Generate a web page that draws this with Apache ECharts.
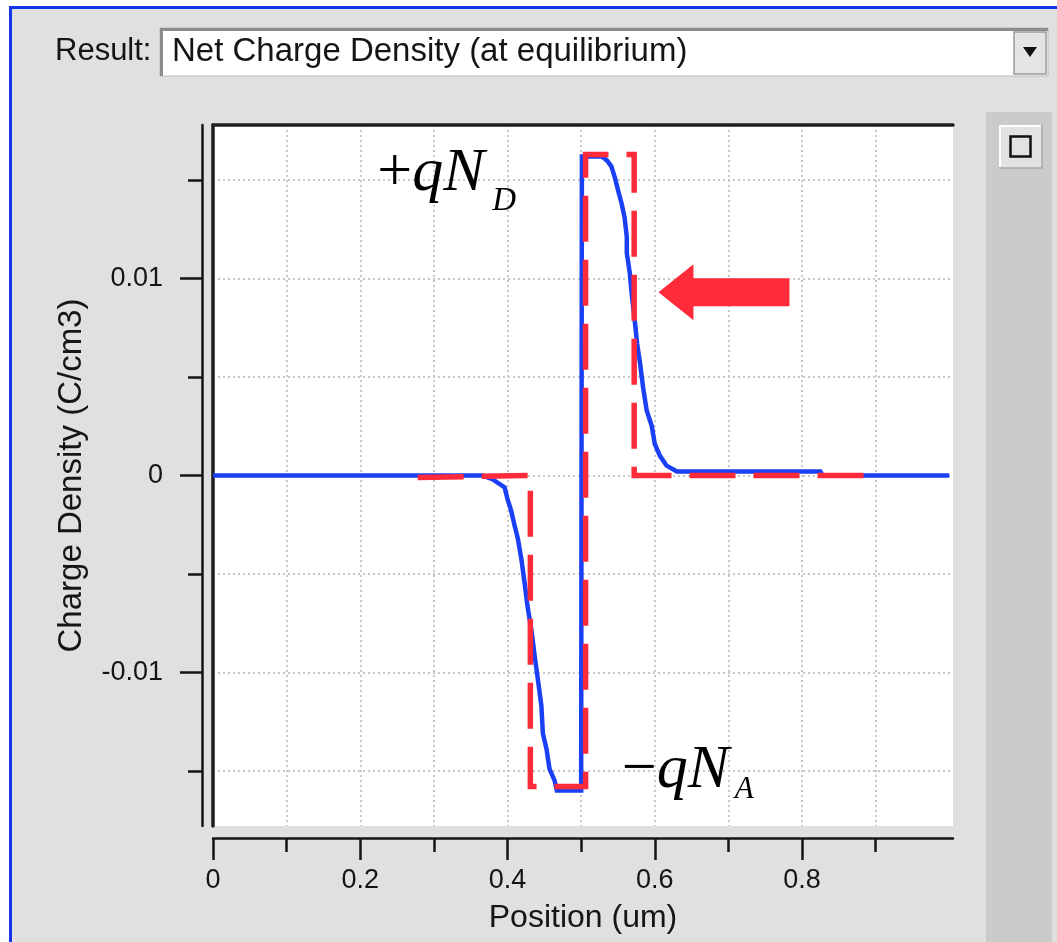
<!DOCTYPE html>
<html><head><meta charset="utf-8">
<script src="https://cdn.jsdelivr.net/npm/echarts@6/dist/echarts.min.js"></script>
<style>html,body{margin:0;padding:0;background:#fff}#c{width:1057px;height:942px}</style>
</head><body><div id="c"></div>
<script>
// ---- data (Position in um, Charge Density in C/cm3) ----
const posX = [0, 0.360, 0.366, 0.380, 0.396, 0.400, 0.405, 0.410, 0.414, 0.419, 0.423, 0.427, 0.433, 0.437, 0.441, 0.446, 0.448, 0.453, 0.457, 0.464, 0.467, 0.500,
  0.501, 0.528, 0.535, 0.541, 0.546, 0.550, 0.555, 0.559, 0.562, 0.562, 0.566, 0.569, 0.573, 0.576, 0.580, 0.584, 0.589, 0.596, 0.600, 0.607, 0.616, 0.630, 0.825, 0.828, 1.000];
const chargeY = [0, 0, 0, -0.0002, -0.0006, -0.0012, -0.0018, -0.0026, -0.0032, -0.0043, -0.0054, -0.0066, -0.0080, -0.0092, -0.0103, -0.0117, -0.0131, -0.0139, -0.0149, -0.0155, -0.0160, -0.0160,
  0.0162, 0.0162, 0.0160, 0.0157, 0.0151, 0.0145, 0.0138, 0.0131, 0.0121, 0.0113, 0.0103, 0.0091, 0.0078, 0.0067, 0.0057, 0.0045, 0.0033, 0.0025, 0.0016, 0.0010, 0.0005, 0.0002, 0.0002, 0, 0];
const idealX = [0.278, 0.431, 0.431, 0.506, 0.506, 0.572, 0.572, 0.897];
const idealY = [-0.0001, 0, -0.0158, -0.0158, 0.0163, 0.0163, 0, 0];
const xMajorTicks = [0, 0.2, 0.4, 0.6, 0.8];
const xMinorTicks = [0.1, 0.3, 0.5, 0.7, 0.9];
const xGridValues = [0, 0.1, 0.2, 0.3, 0.4, 0.5, 0.6, 0.7, 0.8, 0.9];
const yMajorTicks = [-0.01, 0, 0.01];
const yMinorTicks = [-0.015, -0.005, 0.005, 0.015];
const yGridValues = [-0.015, -0.01, -0.005, 0, 0.005, 0.01, 0.015];
const xRange = [0, 1.005];
const yRange = [-0.0178, 0.0178];
const arrowTip = [0.605, 0.0093];
const donorLabelAnchor = [0.223, 0.01434];
const acceptorLabelAnchor = [0.555, -0.0160];

const chart = echarts.init(document.getElementById('c'), null, {renderer: 'canvas'});
const SANS = '"Liberation Sans", Arial, sans-serif';
const SERIF = '"Liberation Serif", "Times New Roman", serif';
const INK = '#151515';

const blank = {axisLine:{show:false, onZero:false}, axisTick:{show:false}, axisLabel:{show:false}, splitLine:{show:false}};
function xa(extra){ return Object.assign({type:'value', min:xRange[0], max:xRange[1], gridIndex:0}, blank, extra); }
function ya(extra){ return Object.assign({type:'value', min:yRange[0], max:yRange[1], gridIndex:0}, blank, extra); }

const option = {
  backgroundColor: '#e0e0e0',
  animation: false,
  grid: {left: 213, top: 125, width: 740, height: 701, show: true, backgroundColor: '#ffffff', borderWidth: 0, containLabel: false, outerBoundsMode: 'none'},
  xAxis: [
    xa({position:'bottom', offset:12,
      axisLine:{show:true, onZero:false, lineStyle:{color:INK, width:2.5}},
      axisTick:{show:true, customValues:xMajorTicks, length:22, lineStyle:{color:INK, width:2.5}},
      axisLabel:{show:true, customValues:xMajorTicks, margin:29, fontFamily:SANS, fontSize:27, color:INK,
        formatter: v => String(v)},
      name:'Position (um)', nameLocation:'middle', nameGap:64,
      nameTextStyle:{fontFamily:SANS, fontSize:32, color:INK}}),
    xa({position:'bottom', offset:12,
      axisTick:{show:true, customValues:xMinorTicks, length:14, lineStyle:{color:INK, width:2.5}}}),
    xa({position:'bottom',
      axisTick:{show:false, customValues:xGridValues},
      splitLine:{show:true, lineStyle:{color:'#c8c8c8', width:2, type:[2,3]}}}),
    xa({position:'top',
      axisLine:{show:true, onZero:false, lineStyle:{color:'#1e1e1e', width:3.5}}})
  ],
  yAxis: [
    ya({position:'left', offset:11,
      axisLine:{show:true, onZero:false, lineStyle:{color:INK, width:2.5}},
      axisTick:{show:true, customValues:yMajorTicks, length:22, lineStyle:{color:INK, width:2.5}},
      axisLabel:{show:true, customValues:yMajorTicks, margin:39, fontFamily:SANS, fontSize:27, color:INK,
        formatter: v => (v === 0 ? '0' : String(v))},
      name:'Charge Density (C/cm3)', nameLocation:'middle', nameGap:114, nameRotate:90,
      nameTextStyle:{fontFamily:SANS, fontSize:33, color:INK}}),
    ya({position:'left', offset:11,
      axisTick:{show:true, customValues:yMinorTicks, length:14, lineStyle:{color:INK, width:2.5}}}),
    ya({position:'left',
      axisTick:{show:false, customValues:yGridValues},
      splitLine:{show:true, lineStyle:{color:'#c8c8c8', width:2, type:[2,3]}}}),
    ya({position:'left', offset:0,
      axisLine:{show:true, onZero:false, lineStyle:{color:'#1e1e1e', width:3.5}}})
  ],
  series: [
    {type:'line', xAxisIndex:0, yAxisIndex:0, data: posX.map((x,i)=>[x, chargeY[i]]),
      showSymbol:false, symbol:'none', z:3,
      lineStyle:{color:'#1b3ff5', width:4.5, join:'miter'}},
    {type:'line', xAxisIndex:0, yAxisIndex:0, data: idealX.map((x,i)=>[x, idealY[i]]),
      showSymbol:false, symbol:'none', z:4,
      lineStyle:{color:'#ff2b3b', width:5.5, type:[46,18], cap:'butt', join:'miter'}}
  ]
};
chart.setOption(option);

const P = p => chart.convertToPixel({xAxisIndex:0, yAxisIndex:0}, p);
const tip = P(arrowTip);
const dA = P(donorLabelAnchor);
const aA = P(acceptorLabelAnchor);

const graphics = [
  // outer white margin and blue window border
  {type:'rect', shape:{x:0, y:0, width:1057, height:6}, style:{fill:'#ffffff'}, silent:true},
  {type:'rect', shape:{x:0, y:0, width:9, height:942}, style:{fill:'#ffffff'}, silent:true},
  {type:'rect', shape:{x:9, y:6, width:1048, height:3}, style:{fill:'#1436e6'}, silent:true},
  {type:'rect', shape:{x:9, y:6, width:3, height:936}, style:{fill:'#1436e6'}, silent:true},
  // Result label + combo box
  {type:'text', x:55, y:51, style:{text:'Result:', fontFamily:SANS, fontSize:31, fill:INK, verticalAlign:'middle'}},
  {type:'rect', shape:{x:160, y:28, width:888, height:48}, style:{fill:'#ffffff', stroke:'#b8b8b8', lineWidth:1}},
  {type:'rect', shape:{x:160, y:28, width:888, height:3}, style:{fill:'#8c8c8c'}},
  {type:'rect', shape:{x:160, y:28, width:3, height:48}, style:{fill:'#8c8c8c'}},
  {type:'text', x:172, y:52, style:{text:'Net Charge Density (at equilibrium)', fontFamily:SANS, fontSize:33, fill:INK, verticalAlign:'middle'}},
  {type:'rect', shape:{x:1014, y:32, width:32, height:42}, style:{fill:'#e4e4e4', stroke:'#9a9a9a', lineWidth:1.5}},
  {type:'polygon', shape:{points:[[1023,47],[1037,47],[1030,57]]}, style:{fill:'#111'}},
  // right side panel with button
  {type:'rect', shape:{x:986, y:112, width:66, height:830}, style:{fill:'#cbcbcb'}},
  {type:'rect', shape:{x:1000, y:126, width:42, height:42}, style:{fill:'#e2e2e2', stroke:'#a8a8a8', lineWidth:1.5}},
  {type:'polyline', shape:{points:[[1000,167],[1000,126],[1041,126]]}, style:{stroke:'#ffffff', lineWidth:2, fill:null}},
  {type:'rect', shape:{x:1010.5, y:136.5, width:20, height:20}, style:{fill:'none', stroke:'#111', lineWidth:2.5}},
  // red arrow
  {type:'polygon', z:10, shape:{points:[
    [tip[0], tip[1]], [tip[0]+35, tip[1]-28], [tip[0]+35, tip[1]-14], [tip[0]+131, tip[1]-14],
    [tip[0]+131, tip[1]+14], [tip[0]+35, tip[1]+14], [tip[0]+35, tip[1]+28]]},
    style:{fill:'#ff2b3b'}},
  // +qN_D
  {type:'text', z:10, x:dA[0], y:dA[1]+12, style:{text:'+', fontFamily:SERIF, fontSize:62, fill:'#000', verticalAlign:'bottom'}},
  {type:'text', z:10, x:dA[0]+35, y:dA[1]+12, style:{text:'qN', fontFamily:SERIF, fontStyle:'italic', fontSize:62, fill:'#000', verticalAlign:'bottom'}},
  {type:'text', z:10, x:dA[0]+115, y:dA[1]+25, style:{text:'D', fontFamily:SERIF, fontStyle:'italic', fontSize:33, fill:'#000', verticalAlign:'bottom'}},
  // -qN_A
  {type:'text', z:10, x:aA[0], y:aA[1]+11, style:{text:'\u2212', fontFamily:SERIF, fontSize:62, fill:'#000', verticalAlign:'bottom'}},
  {type:'text', z:10, x:aA[0]+35, y:aA[1]+11, style:{text:'qN', fontFamily:SERIF, fontStyle:'italic', fontSize:62, fill:'#000', verticalAlign:'bottom'}},
  {type:'text', z:10, x:aA[0]+113, y:aA[1]+15, style:{text:'A', fontFamily:SERIF, fontStyle:'italic', fontSize:31, fill:'#000', verticalAlign:'bottom'}}
];
chart.setOption({graphic: graphics});
</script>
</body></html>
